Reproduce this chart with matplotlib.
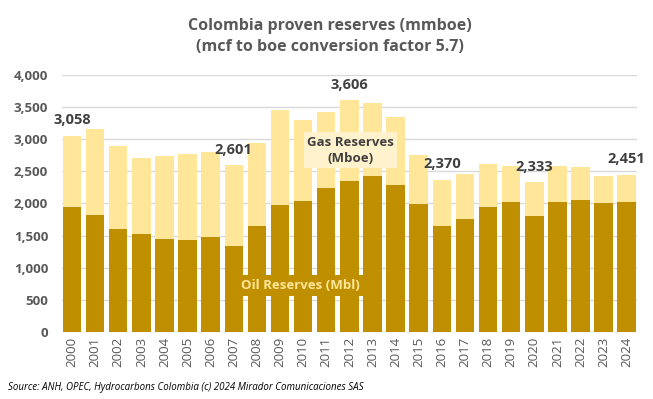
import numpy as np
import matplotlib.pyplot as plt
from matplotlib.ticker import FuncFormatter

years = [str(y) for y in range(2000, 2025)]
oil = [1950, 1820, 1605, 1522, 1455, 1430, 1486, 1340, 1647, 1969, 2036, 2234, 2353,
       2426, 2281, 1985, 1647, 1756, 1938, 2016, 1803, 2016, 2057, 2000, 2016]
total = [3058, 3158, 2893, 2711, 2738, 2769, 2795, 2601, 2935, 3454, 3299, 3418, 3606,
         3568, 3340, 2748, 2370, 2462, 2618, 2582, 2333, 2587, 2561, 2431, 2451]
gas = [t - o for t, o in zip(total, oil)]
labelled = ['2000', '2007', '2012', '2016', '2020', '2024']

plt.rcParams['font.family'] = ['Open Sans', 'DejaVu Sans']
grey = '#595959'
oil_col = '#BF8F00'
gas_col = '#FFE699'

fig = plt.figure(figsize=(6.53, 3.99), dpi=100)
ax = fig.add_axes([0.095, 0.168, 0.88, 0.644])

x = np.arange(len(years))
ax.bar(x, oil, width=0.8, color=oil_col, zorder=2)
ax.bar(x, gas, width=0.8, bottom=oil, color=gas_col, zorder=2)

for i, y in enumerate(years):
    if y in labelled:
        ax.annotate(f'{total[i]:,}', (x[i], total[i]), xytext=(0, 6), textcoords='offset points',
                    ha='center', va='bottom', fontsize=10.5, fontweight='bold', color='#404040')

ax.set_xlim(-0.43, len(years) - 0.57)
ax.set_ylim(0, 4000)
ax.set_yticks(range(0, 4001, 500))
ax.yaxis.set_major_formatter(FuncFormatter(lambda v, p: f'{int(v):,}'))
ax.set_xticks(x)
ax.set_xticklabels(years, rotation=90)
ax.tick_params(length=0, labelcolor=grey, labelsize=9.5)
ax.tick_params(axis='y', pad=10)
for lab in ax.get_yticklabels():
    lab.set_fontweight('bold')
ax.grid(axis='y', color='#D9D9D9', linewidth=1, zorder=0)
for s in ax.spines.values():
    s.set_visible(False)

ax.text(12.05, 2830, 'Gas Reserves\n(Mboe)', ha='center', va='center', fontsize=9.5,
        fontweight='bold', color='#404040', linespacing=1.3,
        bbox=dict(boxstyle='square,pad=0.25', fc='#FFF2CC', ec='none'), zorder=3)
ax.text(9.9, 727, 'Oil Reserves (Mbl)', ha='center', va='center', fontsize=9.5,
        fontweight='bold', color=gas_col,
        bbox=dict(boxstyle='square,pad=0.3', fc=oil_col, ec='none'), zorder=3)

fig.text(0.505, 0.955, 'Colombia proven reserves (mmboe)\n(mcf to boe conversion factor 5.7)',
         ha='center', va='top', fontsize=11.5, fontweight='bold', color=grey, linespacing=1.45)
fig.text(0.012, 0.028, 'Source: ANH, OPEC, Hydrocarbons Colombia (c) 2024 Mirador Comunicaciones SAS',
         ha='left', va='center', fontsize=7, style='italic', color='black')

fig.savefig('out.png', dpi=100)
